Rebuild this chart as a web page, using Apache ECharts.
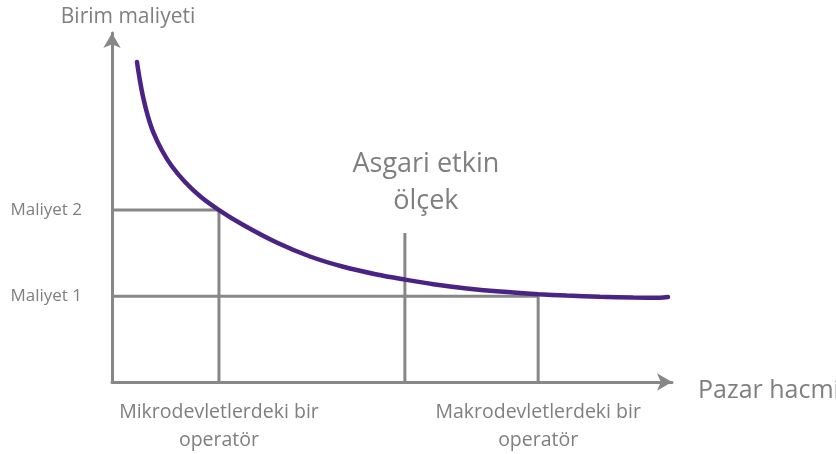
<!DOCTYPE html>
<html lang="tr">
<head>
    <title>Birim maliyeti ve pazar hacmi</title>
    <meta charset="utf-8">
    <style>
        html, body {margin: 0; padding: 0; background: #fff;}
        #container {width: 836px; height: 454px;}
    </style>
</head>
<body>
<div id="container"></div>

<script src="https://cdn.jsdelivr.net/npm/echarts@6/dist/echarts.min.js"></script>
<script>
// curve: pazar hacmi (x) -> birim maliyeti (y), arbitrary units 0..100
var curveX = [4.46, 5.0, 5.59, 6.38, 7.38, 8.88, 10.66, 13.04, 15.89, 19.11, 23.45, 29.41, 35.36,
              41.3, 47.27, 52.32, 57.38, 63.34, 69.29, 76.13, 81.2, 87.14, 93.09, 97.86, 99.29];
var curveY = [91.69, 86.25, 81.38, 76.33, 71.52, 66.48, 61.89, 57.31, 53.01, 49.28, 44.99, 39.97, 35.96,
              33.01, 30.8, 29.34, 28.02, 26.82, 25.9, 25.16, 24.76, 24.41, 24.18, 24.13, 24.36];

// cost levels on the y axis
var costNames = ['Maliyet 1', 'Maliyet 2'];
var costValues = [24.6, 49.3];

// operators on the x axis
var operatorNames = ['Mikrodevletlerdeki bir\noperatör', 'Makrodevletlerdeki bir\noperatör'];
var operatorValues = [19.1, 76.1];

// minimum efficient scale marker
var mesName = 'Asgari etkin\nölçek';
var mesX = 52.3;
var mesTop = 42.7;

var gray = '#878787';
var textGray = '#7f7f7f';
var font = 'Open Sans';

var curveData = curveX.map(function (x, i) { return [x, curveY[i]]; });

function segment(a, b) {
    return {
        type: 'line',
        data: [a, b],
        symbol: 'none',
        silent: true,
        lineStyle: {color: gray, width: 3},
        z: 1
    };
}

var series = [
    // Maliyet 2 guide
    segment([0, costValues[1]], [operatorValues[0], costValues[1]]),
    segment([operatorValues[0], 0], [operatorValues[0], costValues[1]]),
    // Maliyet 1 guide
    segment([0, costValues[0]], [operatorValues[1], costValues[0]]),
    segment([operatorValues[1], 0], [operatorValues[1], costValues[0]]),
    // minimum efficient scale
    {
        type: 'line',
        data: [[mesX, 0], {value: [mesX, mesTop], label: {
            show: true, position: 'top', distance: 13, offset: [21, 0],
            formatter: mesName, color: textGray, fontFamily: font,
            fontSize: 27, lineHeight: 37, align: 'center'
        }}],
        symbol: 'circle',
        symbolSize: 0,
        showSymbol: true,
        silent: true,
        lineStyle: {color: gray, width: 3},
        z: 1
    },
    {
        type: 'line',
        data: curveData,
        smooth: 0.3,
        symbol: 'none',
        silent: true,
        lineStyle: {color: '#4b2384', width: 4.5, cap: 'round'},
        z: 3
    }
];

var myChart = echarts.init(document.getElementById('container'));
var option = {
    animation: false,
    grid: {left: 112, top: 33, width: 560, height: 349, outerBoundsMode: 'none', containLabel: false},
    xAxis: {
        type: 'value',
        min: 0,
        max: 100,
        name: 'Pazar hacmi',
        nameLocation: 'end',
        nameGap: 26,
        nameTextStyle: {color: textGray, fontFamily: font, fontSize: 25, verticalAlign: 'top', lineHeight: 18},
        axisLine: {
            lineStyle: {color: gray, width: 3},
            symbol: ['none', 'arrow'],
            symbolSize: [13, 15]
        },
        axisTick: {show: false},
        splitLine: {show: false},
        axisLabel: {
            customValues: operatorValues,
            margin: 16,
            color: textGray,
            fontFamily: font,
            fontSize: 19.5,
            lineHeight: 28,
            formatter: function (v) {
                var i = operatorValues.indexOf(v);
                return i >= 0 ? operatorNames[i] : '';
            }
        }
    },
    yAxis: {
        type: 'value',
        min: 0,
        max: 100,
        name: 'Birim maliyeti',
        nameLocation: 'end',
        nameGap: 5,
        nameTextStyle: {color: textGray, fontFamily: font, fontSize: 21, padding: [0, 0, 0, 32]},
        axisLine: {
            lineStyle: {color: gray, width: 3},
            symbol: ['none', 'arrow'],
            symbolSize: [13, 15]
        },
        axisTick: {show: false},
        splitLine: {show: false},
        axisLabel: {
            customValues: costValues,
            margin: 30,
            color: textGray,
            fontFamily: font,
            fontSize: 17,
            formatter: function (v) {
                var i = costValues.indexOf(v);
                return i >= 0 ? costNames[i] : '';
            }
        }
    },
    series: series
};
myChart.setOption(option);
</script>
</body>
</html>
